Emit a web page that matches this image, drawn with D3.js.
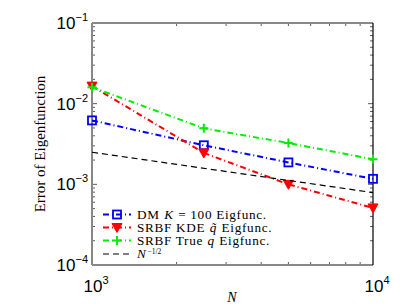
<!DOCTYPE html>
<html><head><meta charset="utf-8">
<script src="https://cdn.jsdelivr.net/npm/d3@7"></script>
<style>body{margin:0;background:#fff}svg{display:block}</style>
</head><body>
<script>
const Ns = [1000, 2500, 5000, 10000];
const dmErr = [6.2e-3, 3.05e-3, 1.87e-3, 1.17e-3];
const kdeErr = [1.65e-2, 2.45e-3, 1.0e-3, 5.1e-4];
const trueErr = [1.6e-2, 4.95e-3, 3.25e-3, 2.05e-3];
const refN = [1000, 10000];
const refErr = [2.5e-3, 7.9e-4];
const xTicks = [1e3, 1e4];
const xTickExp = ["3", "4"];
const yTicks = [1e-4, 1e-3, 1e-2, 1e-1];
const yTickExp = ["−4", "−3", "−2", "−1"];
const legendParts = [
  [["DM", 0], ["K", 1], ["= 100 Eigfunc.", 0]],
  [["SRBF KDE", 0], ["q̃", 1], ["Eigfunc.", 0]],
  [["SRBF True", 0], ["q", 1], ["Eigfunc.", 0]],
  [["N", 1]]
];
const refExp = "−1/2";

const W = 415, H = 305;
const m = {l: 92, t: 23, r: 373, b: 265};
const svg = d3.select("body").append("svg").attr("width", W).attr("height", H);
const x = d3.scaleLog().domain([1e3, 1e4]).range([m.l, m.r]);
const y = d3.scaleLog().domain([1e-4, 1e-1]).range([m.b, m.t]);

// minor ticks
const xMinor = d3.range(2, 10).map(d => d * 1e3);
const yMinor = [];
[1e-4, 1e-3, 1e-2].forEach(dec => { for (let k = 2; k <= 9; k++) yMinor.push(k * dec); });
const tk = svg.append("g").attr("stroke", "#333").attr("stroke-width", 0.8);
xMinor.forEach(v => {
  tk.append("line").attr("x1", x(v)).attr("x2", x(v)).attr("y1", m.b).attr("y2", m.b - 3);
  tk.append("line").attr("x1", x(v)).attr("x2", x(v)).attr("y1", m.t).attr("y2", m.t + 3);
});
yMinor.forEach(v => {
  tk.append("line").attr("y1", y(v)).attr("y2", y(v)).attr("x1", m.l).attr("x2", m.l + 3);
  tk.append("line").attr("y1", y(v)).attr("y2", y(v)).attr("x1", m.r).attr("x2", m.r - 3);
});
yTicks.forEach(v => {
  tk.append("line").attr("y1", y(v)).attr("y2", y(v)).attr("x1", m.l).attr("x2", m.l + 5);
  tk.append("line").attr("y1", y(v)).attr("y2", y(v)).attr("x1", m.r).attr("x2", m.r - 5);
});

// axes box
svg.append("line").attr("x1", m.l).attr("x2", m.r).attr("y1", m.t).attr("y2", m.t).attr("stroke", "#888").attr("stroke-width", 2);
svg.append("line").attr("x1", m.l).attr("x2", m.r).attr("y1", m.b).attr("y2", m.b).attr("stroke", "#888").attr("stroke-width", 2);
svg.append("line").attr("x1", m.l).attr("x2", m.l).attr("y1", m.t).attr("y2", m.b).attr("stroke", "#888").attr("stroke-width", 2);
svg.append("line").attr("x1", m.r).attr("x2", m.r).attr("y1", m.t).attr("y2", m.b).attr("stroke", "#000").attr("stroke-width", 1.2);

// tick labels
const sans = "'Liberation Sans', Arial, sans-serif";
yTicks.forEach((v, i) => {
  const t = svg.append("text").attr("x", m.l - 4).attr("y", y(v) + 6).attr("text-anchor", "end")
    .attr("font-family", sans).attr("font-size", 17);
  t.append("tspan").text("10");
  t.append("tspan").attr("dy", -8).attr("font-size", 11).text(yTickExp[i]);
});
xTicks.forEach((v, i) => {
  const t = svg.append("text").attr("x", x(v) + 4).attr("y", 292).attr("text-anchor", "middle")
    .attr("font-family", sans).attr("font-size", 17);
  t.append("tspan").text("10");
  t.append("tspan").attr("dy", -8).attr("font-size", 11).text(xTickExp[i]);
});

const serif = "'Liberation Serif', 'Times New Roman', serif";
svg.append("text").attr("x", 232).attr("y", 302).attr("text-anchor", "middle")
  .attr("font-family", serif).attr("font-style", "italic").attr("font-size", 14).text("N");
svg.append("text").attr("transform", "translate(45,144) rotate(-90)").attr("text-anchor", "middle")
  .attr("font-family", serif).attr("font-size", 15).text("Error of Eigenfunction");

// series
const series = [
  {xs: Ns, ys: dmErr, color: "#0000ff", dash: "6,3,1,3", marker: "square"},
  {xs: Ns, ys: kdeErr, color: "#ff0000", dash: "6,3,1,3", marker: "tri"},
  {xs: Ns, ys: trueErr, color: "#00ee00", dash: "6,3,1,3", marker: "plus"},
  {xs: refN, ys: refErr, color: "#000000", dash: "6,4", marker: null, width: 1.2}
];
const line = d3.line().x(d => x(d[0])).y(d => y(d[1]));
function drawMarker(g, type, cx, cy, color) {
  if (type === "square") {
    g.append("rect").attr("x", cx - 4).attr("y", cy - 4).attr("width", 8).attr("height", 8)
      .attr("fill", "none").attr("stroke", color).attr("stroke-width", 1.8);
  } else if (type === "tri") {
    g.append("path").attr("d", `M${cx - 5},${cy - 4}L${cx + 5},${cy - 4}L${cx},${cy + 5}Z`)
      .attr("fill", color).attr("stroke", color).attr("stroke-width", 1);
  } else if (type === "plus") {
    g.append("path").attr("d", `M${cx - 4.5},${cy}H${cx + 4.5}M${cx},${cy - 4.5}V${cy + 4.5}`)
      .attr("stroke", color).attr("stroke-width", 2);
  }
}
series.forEach(s => {
  const pts = s.xs.map((v, i) => [v, s.ys[i]]);
  svg.append("path").attr("d", line(pts)).attr("fill", "none").attr("stroke", s.color)
    .attr("stroke-width", s.width || 2).attr("stroke-dasharray", s.dash);
  if (s.marker) pts.forEach(p => drawMarker(svg, s.marker, x(p[0]), y(p[1]), s.color));
});

// legend
const lg = svg.append("g");
const rowY = [214.5, 227.5, 240.5, 254];
const sx = 1.15;
series.forEach((s, i) => {
  lg.append("line").attr("x1", 103).attr("x2", 131).attr("y1", rowY[i]).attr("y2", rowY[i])
    .attr("stroke", s.color).attr("stroke-width", s.width || 2).attr("stroke-dasharray", s.dash);
  if (s.marker) drawMarker(lg, s.marker, 117, rowY[i], s.color);
});
legendParts.forEach((parts, i) => {
  let cx = 137;
  parts.forEach(([txt, ital]) => {
    const e = lg.append("text").attr("transform", `translate(${cx},${rowY[i] + 4}) scale(${sx},1)`)
      .attr("font-family", serif).attr("font-size", 11.5).attr("letter-spacing", 0.6)
      .attr("font-style", ital ? "italic" : "normal").text(txt);
    cx += e.node().getComputedTextLength() * sx + 4.5;
  });
  if (i === 3) {
    lg.append("text").attr("x", cx - 3.5).attr("y", rowY[i] - 0.5)
      .attr("font-family", serif).attr("font-size", 7.5).text(refExp);
  }
});
</script>
</body></html>
